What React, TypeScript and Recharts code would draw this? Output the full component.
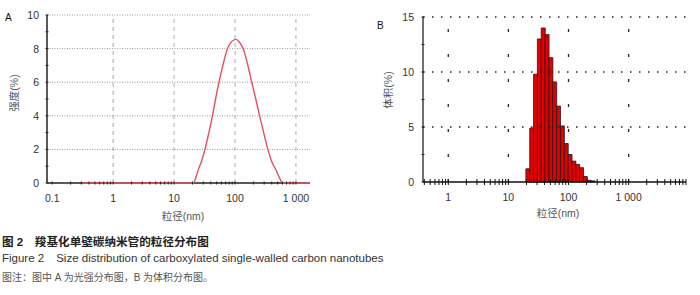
import React from 'react'
import {
  LineChart,
  ComposedChart,
  Line,
  Bar,
  XAxis,
  YAxis,
  ReferenceLine
} from 'recharts'

// A: 光强分布 — 粒径 (nm) / 强度 (%)
const intensitySize = [
  0.32, 20.8, 22.4, 24.8, 28.2, 32.1, 37.2, 42.6, 47.9, 54.6, 63.1, 75.3, 87.1,
  104, 120, 136, 160, 188, 219, 253, 295, 346, 398, 471, 537, 575, 603, 1700
]
const intensityValue = [
  0, 0, 0.25, 0.77, 1.3, 2, 3, 4, 5, 6, 7, 8, 8.4,
  8.55, 8.35, 8, 7.1, 6, 5, 4, 3, 2, 1.3, 0.77, 0.3, 0.1, 0, 0
]

// B: 体积分布 — 粒径 (nm) / 体积 (%)
const volumeSize = [
  21.04, 24.36, 28.21, 32.67, 37.84, 43.82, 50.75, 58.77, 68.06, 78.82,
  91.28, 105.7, 122.4, 141.8, 164.2, 190.1, 220.2, 255
]
const volumeValue = [
  1.2, 4.9, 9.8, 13.0, 14.0, 13.4, 11.3, 9.1, 6.9, 5.1,
  3.5, 2.5, 1.9, 1.6, 1.3, 0.5, 0.15, 0.1
]

const decadeTicks = [0.1, 1, 10, 100, 1000]
const decadeLabels = ['0.1', '1', '10', '100', '1 000']
const minorTicksA = [0.1, 1, 10, 100].flatMap(d =>
  [2, 3, 4, 5, 6, 7, 8, 9].map(m => m * d)
)
const minorTicksB = [0.1, 1, 10, 100, 1000].flatMap(d =>
  [2, 3, 4, 5, 6, 7, 8, 9].map(m => m * d)
).filter(v => v > 0.38)
const yTicksA = [0, 1, 2, 3, 4, 5, 6, 7, 8, 9, 10]
const yLabelsA = [0, 2, 4, 6, 8, 10]
const yTicksB = [0, 2.5, 5, 7.5, 10, 12.5, 15]
const yLabelsB = [0, 5, 10, 15]

const numFont = '"Liberation Sans", Arial, sans-serif'
const cjkFont = '"Liberation Sans", Arial, "Noto Sans CJK SC", sans-serif'

function XTick(props: any) {
  const { x, y, payload, half, color } = props
  const v = payload.value
  const i = decadeTicks.findIndex(d => Math.abs(d - v) < 1e-9)
  return (
    <g>
      <line x1={x} x2={x} y1={y - half} y2={y + half} stroke={color} strokeWidth={1} />
      {i >= 0 && (
        <text x={x} y={y + 19} textAnchor='middle' fontSize={10.5} fill='#333' fontFamily={numFont}>
          {decadeLabels[i]}
        </text>
      )}
    </g>
  )
}

function YTick(props: any) {
  const { x, y, payload, labels, gap } = props
  const v = payload.value
  return (
    <g>
      <line x1={x - 1.5} x2={x + 1.5} y1={y} y2={y} stroke='#222' strokeWidth={1} />
      {labels.includes(v) && (
        <text x={x - gap} y={y + 4} textAnchor='end' fontSize={10.5} fill='#333' fontFamily={numFont}>
          {v}
        </text>
      )}
    </g>
  )
}

export default function App() {
  const dataA = intensitySize.map((s, i) => ({ size: s, value: intensityValue[i] }))
  const dataB = volumeSize.map((s, i) => ({ size: s, value: volumeValue[i] }))

  return (
    <div style={{ position: 'absolute', left: 0, top: 0, width: 700, height: 295, background: '#fff', fontFamily: cjkFont }}>
      {/* A */}
      <div style={{ position: 'absolute', left: 5, top: 12, fontSize: 10, fontFamily: numFont, color: '#111' }}>A</div>
      <div style={{ position: 'absolute', left: 13, top: 93, transform: 'translate(-50%, -50%) rotate(-90deg)', fontSize: 10.5, color: '#555', whiteSpace: 'nowrap' }}>强度(%)</div>
      <div style={{ position: 'absolute', left: 183, top: 215, transform: 'translate(-50%, -50%)', fontSize: 10.5, color: '#555', whiteSpace: 'nowrap' }}>粒径(nm)</div>
      <div style={{ position: 'absolute', left: 0, top: 0 }}>
        <LineChart width={330} height={230} data={dataA} margin={{ top: 15, right: 20, bottom: 0, left: 0 }}>
          <XAxis
            dataKey='size'
            type='number'
            scale='log'
            domain={[0.082, 1700]}
            allowDataOverflow
            height={47}
            ticks={[...decadeTicks, ...minorTicksA].sort((a, b) => a - b)}
            interval={0}
            tickSize={0}
            tickMargin={0}
            tickLine={false}
            axisLine={false}
            tick={(p: any) => <XTick {...p} half={1.5} color='#222' />}
          />
          <YAxis
            type='number'
            domain={[0, 10]}
            ticks={yTicksA}
            interval={0}
            width={47}
            tickSize={0}
            tickMargin={0}
            tickLine={false}
            axisLine={{ stroke: '#222', strokeWidth: 1.5 }}
            tick={(p: any) => <YTick {...p} labels={yLabelsA} gap={8} />}
          />
          {[2, 4, 6, 8, 10].map(v => (
            <ReferenceLine key={'ha' + v} y={v} stroke='#999' strokeDasharray='1 1.5' />
          ))}
          {[1, 10, 100, 1000].map(v => (
            <ReferenceLine key={'va' + v} x={v} stroke='#aaa' strokeDasharray='4 4' />
          ))}
          <ReferenceLine y={0} stroke='#222' strokeWidth={1.5} />
          <Line
            type='monotone'
            dataKey='value'
            stroke='#e5505f'
            strokeWidth={1.4}
            dot={false}
            isAnimationActive={false}
          />
        </LineChart>
      </div>

      {/* B */}
      <div style={{ position: 'absolute', left: 377, top: 20, fontSize: 10, fontFamily: numFont, color: '#111' }}>B</div>
      <div style={{ position: 'absolute', left: 387, top: 90, transform: 'translate(-50%, -50%) rotate(-90deg)', fontSize: 10.5, color: '#555', whiteSpace: 'nowrap' }}>体积(%)</div>
      <div style={{ position: 'absolute', left: 558, top: 212, transform: 'translate(-50%, -50%)', fontSize: 10.5, color: '#555', whiteSpace: 'nowrap' }}>粒径(nm)</div>
      <div style={{ position: 'absolute', left: 370, top: 0 }}>
        <ComposedChart width={330} height={230} data={dataB} barCategoryGap={0} barGap={0} margin={{ top: 17, right: 14, bottom: 0, left: 0 }}>
          <XAxis
            dataKey='size'
            type='number'
            scale='log'
            domain={[0.38, 9000]}
            allowDataOverflow
            height={48}
            ticks={[...decadeTicks.filter(v => v >= 1), ...minorTicksB].sort((a, b) => a - b)}
            interval={0}
            tickSize={0}
            tickMargin={0}
            tickLine={false}
            axisLine={{ stroke: '#111', strokeWidth: 1.5 }}
            tick={(p: any) => <XTick {...p} half={3} color='#111' />}
          />
          <YAxis
            type='number'
            domain={[0, 15]}
            ticks={yTicksB}
            interval={0}
            width={53}
            tickSize={0}
            tickMargin={0}
            tickLine={false}
            axisLine={{ stroke: '#111', strokeWidth: 1.2 }}
            tick={(p: any) => <YTick {...p} labels={yLabelsB} gap={9} />}
          />
          {[5, 10, 15].map(v => (
            <ReferenceLine key={'hb' + v} y={v} stroke='#222' strokeWidth={1.3} strokeDasharray='1.5 7.5' />
          ))}
          {[1, 10, 100, 1000].map(v => (
            <ReferenceLine key={'vb' + v} x={v} stroke='#222' strokeWidth={1.3} strokeDasharray='3 22' />
          ))}
          <Bar
            dataKey='value'
            fill='#e40000'
            stroke='#1a1a1a'
            strokeWidth={0.8}
            isAnimationActive={false}
          />
        </ComposedChart>
      </div>

      {/* caption */}
      <div style={{ position: 'absolute', left: 2, top: 233, fontSize: 11.6, fontWeight: 'bold', color: '#222', whiteSpace: 'nowrap' }}>
        图 2　羧基化单壁碳纳米管的粒径分布图
      </div>
      <div style={{ position: 'absolute', left: 2, top: 251, fontSize: 11.5, fontFamily: numFont, color: '#333', whiteSpace: 'nowrap' }}>
        Figure 2　Size distribution of carboxylated single-walled carbon nanotubes
      </div>
      <div style={{ position: 'absolute', left: 2, top: 269, fontSize: 10, color: '#555', whiteSpace: 'nowrap' }}>
        图注：图中 A 为光强分布图，B 为体积分布图。
      </div>
    </div>
  )
}
